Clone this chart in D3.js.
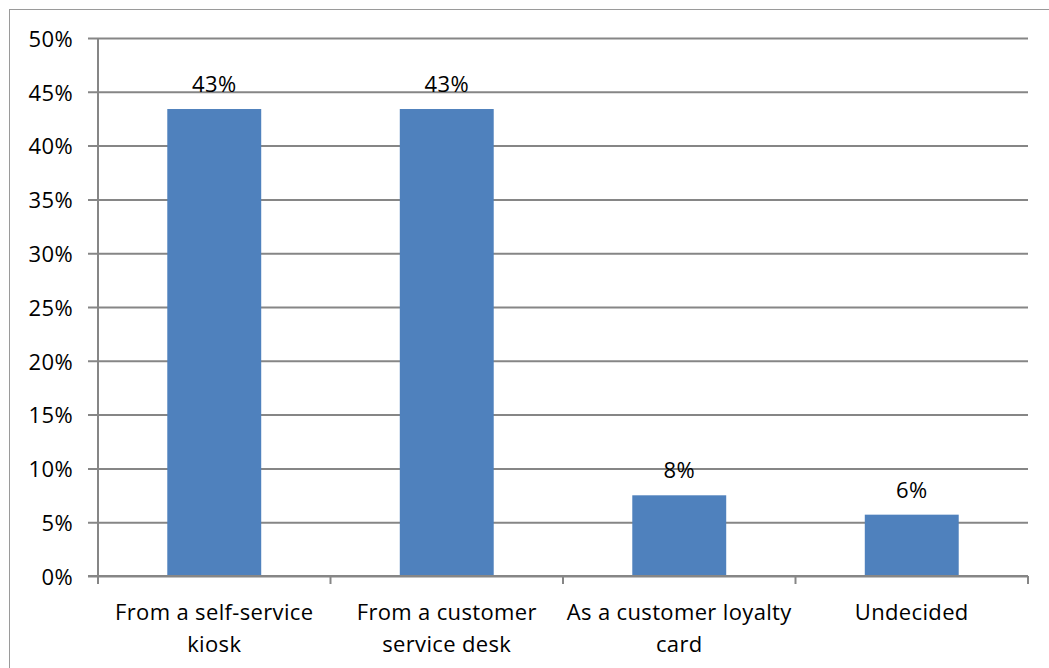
<!DOCTYPE html>
<html>
<head>
<meta charset="utf-8">
<script src="https://cdn.jsdelivr.net/npm/d3@7"></script>
<style>
  html, body { margin: 0; padding: 0; background: #fff; }
  svg { display: block; }
  text { font-family: "Open Sans", sans-serif; fill: #000; }
</style>
</head>
<body>
<svg id="chart" width="1049" height="668"></svg>
<script>
// Survey answers and their shares
const categories = [
  "From a self-service kiosk",
  "From a customer service desk",
  "As a customer loyalty card",
  "Undecided"
];
const values = [0.434, 0.434, 0.075, 0.057];
const dataLabels = ["43%", "43%", "8%", "6%"];
const yTicks = [0, 0.05, 0.10, 0.15, 0.20, 0.25, 0.30, 0.35, 0.40, 0.45, 0.50];

const svg = d3.select("#chart");
const W = 1049, H = 668;
const plot = { left: 98, right: 1028, top: 38, bottom: 576 };
const fontSize = "22px";
const spacing = "0.35px";

// chart frame
svg.append("rect")
  .attr("x", 9.5).attr("y", 9.5)
  .attr("width", W + 10).attr("height", H + 10)
  .attr("fill", "#fff")
  .attr("stroke", "#9a9a9a").attr("stroke-width", 1);

const y = d3.scaleLinear().domain([0, 0.5]).range([plot.bottom, plot.top]);
const x = d3.scaleBand()
  .domain(categories)
  .range([plot.left, plot.right])
  .paddingInner(0.596)
  .paddingOuter(0.298);

const gridColor = "#868686";

// horizontal gridlines with short ticks to the left of the axis
const yAxis = d3.axisLeft(y)
  .tickValues(yTicks)
  .tickFormat(d3.format(".0%"))
  .tickSize(-(plot.right - plot.left))
  .tickPadding(0);

const gy = svg.append("g")
  .attr("transform", `translate(${plot.left},0)`)
  .call(yAxis);
gy.select(".domain").remove();
gy.selectAll(".tick line")
  .attr("x1", -10)
  .attr("stroke", gridColor)
  .attr("stroke-width", 2);
gy.selectAll(".tick text")
  .attr("x", -25)
  .attr("dy", "0.38em")
  .attr("text-anchor", "end")
  .style("font-size", fontSize)
  .style("letter-spacing", spacing)
  .style("font-family", "'Open Sans', sans-serif")
  .attr("fill", "#000");

// vertical axis line
svg.append("line")
  .attr("x1", plot.left).attr("x2", plot.left)
  .attr("y1", plot.top).attr("y2", plot.bottom + 8)
  .attr("stroke", gridColor).attr("stroke-width", 2);

// category boundary ticks below the baseline
const boundaries = d3.range(categories.length + 1)
  .map(i => plot.left + i * x.step());
svg.append("g").selectAll("line")
  .data(boundaries)
  .join("line")
  .attr("x1", d => d).attr("x2", d => d)
  .attr("y1", plot.bottom).attr("y2", plot.bottom + 8)
  .attr("stroke", gridColor).attr("stroke-width", 2);

// bars
svg.append("g").selectAll("rect")
  .data(values)
  .join("rect")
  .attr("x", (d, i) => x(categories[i]))
  .attr("y", d => y(d))
  .attr("width", x.bandwidth())
  .attr("height", d => y(0) - y(d))
  .attr("fill", "#4f81bd");

// redraw baseline above the bars
svg.append("line")
  .attr("x1", plot.left - 10).attr("x2", plot.right)
  .attr("y1", plot.bottom).attr("y2", plot.bottom)
  .attr("stroke", gridColor).attr("stroke-width", 2);

// value labels
svg.append("g").selectAll("text")
  .data(values)
  .join("text")
  .attr("x", (d, i) => x(categories[i]) + x.bandwidth() / 2)
  .attr("y", d => y(d) - 17)
  .attr("text-anchor", "middle")
  .style("font-size", fontSize)
  .style("letter-spacing", spacing)
  .text((d, i) => dataLabels[i]);

// category labels, wrapped to the category width
const labelG = svg.append("g");
categories.forEach((c, i) => {
  const cx = x(c) + x.bandwidth() / 2;
  const t = labelG.append("text")
    .attr("x", cx)
    .attr("y", 620)
    .attr("text-anchor", "middle")
    .style("font-size", fontSize)
    .style("letter-spacing", spacing);
  const words = c.split(" ");
  let line = [];
  let lineNo = 0;
  let tspan = t.append("tspan").attr("x", cx).attr("y", 620);
  words.forEach(w => {
    line.push(w);
    tspan.text(line.join(" "));
    if (tspan.node().getComputedTextLength() > x.step() && line.length > 1) {
      line.pop();
      tspan.text(line.join(" "));
      line = [w];
      lineNo++;
      tspan = t.append("tspan").attr("x", cx).attr("y", 620 + lineNo * 32).text(w);
    }
  });
});
</script>
</body>
</html>
